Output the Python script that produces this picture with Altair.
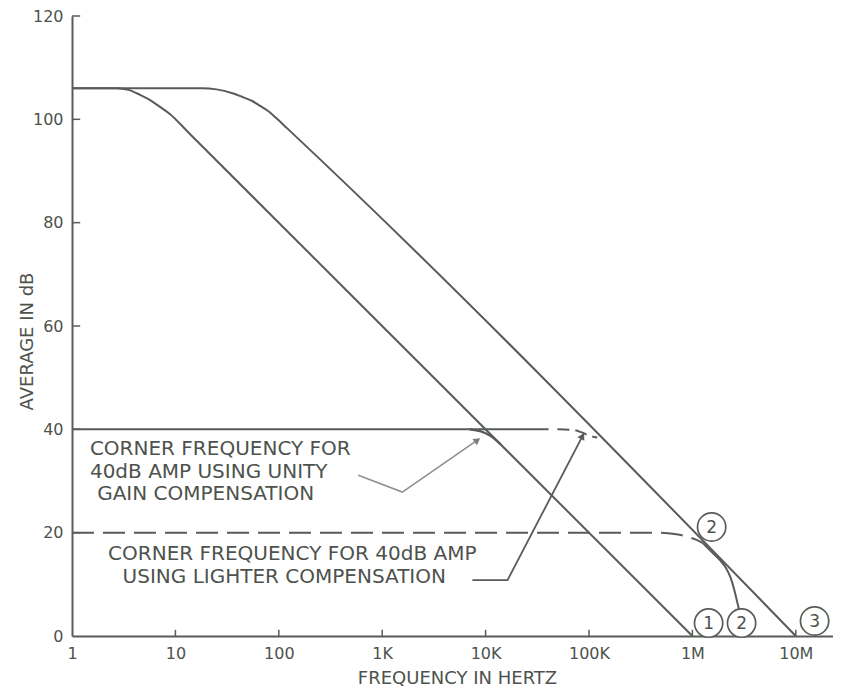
import json
import altair as alt
import pandas as pd

# ---------------- data ----------------
x_ticks = [1, 10, 100, 1e3, 1e4, 1e5, 1e6, 1e7]
x_tick_labels = ["1", "10", "100", "1K", "10K", "100K", "1M", "10M"]
y_ticks = [0, 20, 40, 60, 80, 100, 120]

# open loop, unity-gain compensation (curve 1)
c1_f = [1, 2.7, 3.5, 4.5, 5.6, 7.1, 8.9, 13, 1e6]
c1_db = [106, 106, 105.7, 104.8, 103.8, 102.4, 101.0, 97.7, 0]

# open loop, lightest compensation (curve 3)
c3_f = [1, 18, 25, 36.3, 45, 56, 66, 77.6, 95, 120, 1e7]
c3_db = [106, 106, 105.8, 105.0, 104.3, 103.5, 102.6, 101.7, 100.2, 98.3, 0]

# 40 dB closed loop line (solid part, then dashed corner)
g40_f = [1, 4.06e4]
g40_db = [40, 40]
g40d_f = [4.95e4, 7e4, 8.5e4, 1.0e5, 1.2e5]
g40d_db = [40, 39.9, 39.4, 38.8, 38.4]

# small corner of 40 dB amp on unity-gain curve
g40u_f = [7e3, 9e3, 1.1e4, 1.4e4]
g40u_db = [40, 39.6, 38.8, 37.1]

# 20 dB dashed line and its corner
g20_f = [1, 5e5, 7e5, 9e5, 1.1e6, 1.26e6]
g20_db = [20, 20, 19.7, 19.2, 18.6, 18.0]

# curve 2 (lighter compensation, second pole)
c2_f = [1.26e6, 1.6e6, 1.9e6, 2.15e6, 2.35e6, 2.52e6, 2.66e6, 2.78e6, 2.87e6]
c2_db = [18.0, 15.9, 14.4, 12.9, 11.2, 9.2, 7.3, 5.7, 4.4]

# annotation leaders
a1_f = [587, 1566, 8330]
a1_db = [31.1, 27.85, 37.9]
a2_f = [7450, 16300, 86500]
a2_db = [10.8, 10.8, 38.7]

# circled labels
circ_f = [1.535e6, 1.435e6, 2.99e6, 1.52e7]
circ_db = [21.1, 2.5, 2.5, 2.9]
circ_txt = ["2", "1", "2", "3"]

# annotation texts
ann1_txt = ["CORNER FREQUENCY FOR", "40dB AMP USING UNITY", "GAIN COMPENSATION"]
ann1_f = [1.49, 1.49, 1.75]
ann1_db = [35.0, 30.6, 26.3]
ann2_txt = ["CORNER FREQUENCY FOR 40dB AMP", "USING LIGHTER COMPENSATION"]
ann2_f = [135, 113]
ann2_db = [14.7, 10.25]

# ---------------- styling ----------------
INK = "#575c57"
TXT = "#4d524d"
FONT = "DejaVu Sans"
W, H = 761, 620
XMAX = 10 ** (W / 103.4)

xscale = alt.Scale(type="log", domain=[1, XMAX], nice=False)
yscale = alt.Scale(domain=[0, 120], nice=False, zero=False)

label_expr = (
    json.dumps(x_tick_labels).replace('"', "'")
    + "[round(log(datum.value)/LN10)]"
)

xaxis = alt.Axis(
    values=x_ticks, labelExpr=label_expr, ticks=False, grid=False,
    domainColor=INK, domainWidth=2, labelFont=FONT, labelFontSize=16,
    labelColor=TXT, labelPadding=9, labelFlush=False, labelOverlap=False,
    title="FREQUENCY IN HERTZ", titleFont=FONT, titleFontSize=18,
    titleFontWeight="normal", titleColor=TXT, titleX=385, titleY=47,
    titleBaseline="alphabetic", titleAlign="center",
)
yaxis = alt.Axis(
    values=y_ticks, ticks=False, grid=False, domainColor=INK, domainWidth=2,
    labelFont=FONT, labelFontSize=16, labelColor=TXT, labelPadding=9,
    title="AVERAGE IN dB", titleFont=FONT, titleFontSize=18,
    titleFontWeight="normal", titleColor=TXT, titleX=-40, titleY=325,
    titleAngle=270, titleAlign="center", titleBaseline="alphabetic",
)


def X():
    return alt.X("f:Q", scale=xscale, axis=xaxis)


def Y():
    return alt.Y("db:Q", scale=yscale, axis=yaxis)


def line(fs, dbs, color=INK, width=2.0, dash=None):
    df = pd.DataFrame({"f": fs, "db": dbs, "i": list(range(len(fs)))})
    kw = dict(color=color, strokeWidth=width, interpolate="monotone")
    if dash is not None:
        kw["strokeDash"] = dash
    return alt.Chart(df).mark_line(**kw).encode(x=X(), y=Y(), order="i:Q")


layers = []

# inward ticks
xt = pd.DataFrame({"f": x_ticks[1:], "db": [0] * (len(x_ticks) - 1),
                   "db2": [1.2] * (len(x_ticks) - 1)})
layers.append(alt.Chart(xt).mark_rule(color=INK, strokeWidth=1.5).encode(
    x=X(), y=Y(), y2="db2:Q"))
yt = pd.DataFrame({"db": y_ticks[1:], "f": [1] * (len(y_ticks) - 1),
                   "f2": [1.2] * (len(y_ticks) - 1)})
layers.append(alt.Chart(yt).mark_rule(color=INK, strokeWidth=1.5).encode(
    x=X(), x2="f2:Q", y=Y()))

layers.append(line(c1_f, c1_db))
layers.append(line(c3_f, c3_db))
layers.append(line(g40_f, g40_db))
layers.append(line(g40d_f, g40d_db, dash=[12, 6]))
layers.append(line(g40u_f, g40u_db, width=2.2))
layers.append(line(g20_f, g20_db, dash=[22, 9]))
layers.append(line(c2_f, c2_db))

# leaders
layers.append(alt.Chart(pd.DataFrame({"f": a1_f, "db": a1_db, "i": [0, 1, 2]}))
              .mark_line(color="#8e918d", strokeWidth=1.6)
              .encode(x=X(), y=Y(), order="i:Q"))
layers.append(alt.Chart(pd.DataFrame({"f": a2_f, "db": a2_db, "i": [0, 1, 2]}))
              .mark_line(color=INK, strokeWidth=1.8)
              .encode(x=X(), y=Y(), order="i:Q"))
layers.append(alt.Chart(pd.DataFrame({"f": [a1_f[-1]], "db": [a1_db[-1]]}))
              .mark_point(shape="triangle-up", filled=True, size=60, angle=55,
                          color="#7a7d79", opacity=1)
              .encode(x=X(), y=Y()))
layers.append(alt.Chart(pd.DataFrame({"f": [a2_f[-1]], "db": [a2_db[-1]]}))
              .mark_point(shape="triangle-up", filled=True, size=60, angle=28,
                          color=INK, opacity=1)
              .encode(x=X(), y=Y()))

# circled numbers
cdf = pd.DataFrame({"f": circ_f, "db": circ_db, "t": circ_txt})
layers.append(alt.Chart(cdf).mark_point(shape="circle", filled=True, size=800,
                                        fill="white", stroke=INK,
                                        strokeWidth=1.7, opacity=1)
              .encode(x=X(), y=Y()))
layers.append(alt.Chart(cdf).mark_text(font=FONT, fontSize=17, color=TXT,
                                       align="center", baseline="middle", dy=1)
              .encode(x=X(), y=Y(), text="t:N"))

# annotations
a1df = pd.DataFrame({"f": ann1_f, "db": ann1_db, "t": ann1_txt})
layers.append(alt.Chart(a1df).mark_text(font=FONT, fontSize=20, color=TXT,
                                        align="left", baseline="alphabetic")
              .encode(x=X(), y=Y(), text="t:N"))
a2df = pd.DataFrame({"f": ann2_f, "db": ann2_db, "t": ann2_txt})
layers.append(alt.Chart(a2df).mark_text(font=FONT, fontSize=20, color=TXT,
                                        align="center", baseline="alphabetic")
              .encode(x=X(), y=Y(), text="t:N"))

chart = alt.layer(*layers).properties(
    width=W, height=H,
    autosize=alt.AutoSizeParams(type="none"),
    padding={"left": 64, "top": 8, "right": 0, "bottom": 51},
    background="white",
).configure_view(stroke=None)

chart.save("out.html", embed_options={"renderer": "svg", "actions": False})
